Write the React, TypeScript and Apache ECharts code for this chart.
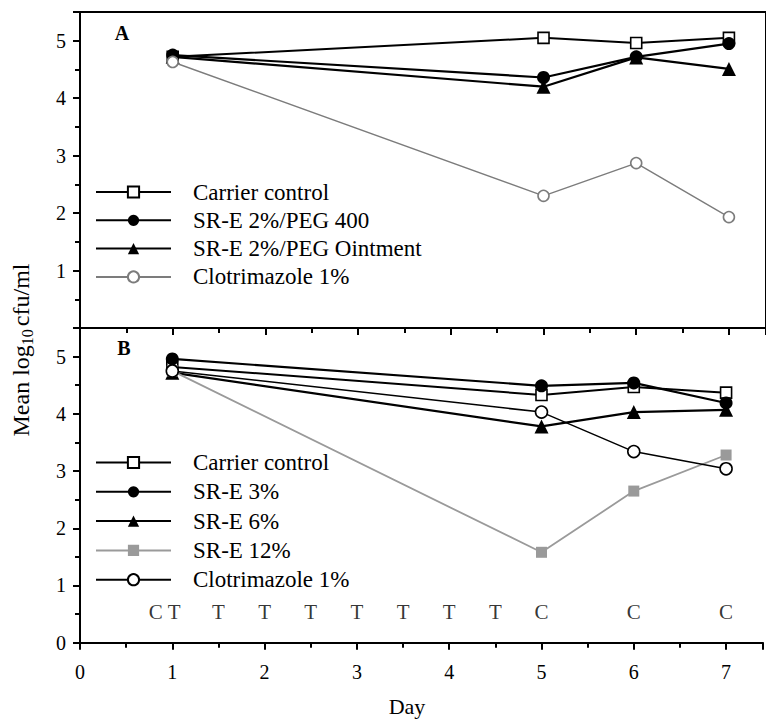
import React, { useEffect, useRef } from "react";
import * as echarts from "echarts";

// ---- data ----
const days = [1, 5, 6, 7];

// Panel A
const aNames = ["Carrier control", "SR-E 2%/PEG 400", "SR-E 2%/PEG Ointment", "Clotrimazole 1%"];
const aCarrier = [4.72, 5.05, 4.96, 5.05];
const aPeg400 = [4.75, 4.36, 4.72, 4.95];
const aPegOint = [4.72, 4.2, 4.71, 4.51];
const aClotri = [4.63, 2.3, 2.87, 1.93];

// Panel B
const bNames = ["Carrier control", "SR-E 3%", "SR-E 6%", "SR-E 12%", "Clotrimazole 1%"];
const bCarrier = [4.82, 4.33, 4.47, 4.37];
const bSre3 = [4.96, 4.49, 4.54, 4.19];
const bSre6 = [4.72, 3.78, 4.03, 4.07];
const bSre12 = [4.75, 1.58, 2.65, 3.28];
const bClotri = [4.75, 4.03, 3.34, 3.04];

// treatment / challenge annotations
const annoDays = [0.82, 1.02, 1.5, 2, 2.5, 3, 3.5, 4, 4.5, 5, 6, 7];
const annoLetters = ["C", "T", "T", "T", "T", "T", "T", "T", "T", "C", "C", "C"];
const annoLevel = 0.54;

const FONT = "Liberation Serif";
const GRAY = "#7c7c7c";

const pairs = (ys: number[]) => days.map((d, i) => [d, ys[i]]);

function makeAxisX(gridIndex: number, showLabels: boolean) {
  return {
    gridIndex,
    type: "value",
    min: 0,
    max: 7.4,
    interval: 1,
    axisLine: { show: true, lineStyle: { color: "#000", width: 2 } },
    axisTick: { show: true, length: 7, lineStyle: { color: "#000", width: 2 } },
    minorTick: { show: true, splitNumber: 2, length: 5, lineStyle: { color: "#000", width: 2 } },
    splitLine: { show: false },
    axisLabel: {
      show: showLabels,
      fontFamily: FONT,
      fontSize: 20,
      color: "#000",
      margin: 19,
      formatter: (v: number) => (Number.isInteger(v) ? String(v) : ""),
    },
  };
}

function makeAxisY(gridIndex: number, showZero: boolean) {
  return {
    gridIndex,
    type: "value",
    min: 0,
    max: 5.5,
    interval: 1,
    axisLine: { show: true, lineStyle: { color: "#000", width: 2 } },
    axisTick: { show: true, length: 7, lineStyle: { color: "#000", width: 2 } },
    minorTick: { show: true, splitNumber: 2, length: 5, lineStyle: { color: "#000", width: 2 } },
    splitLine: { show: false },
    axisLabel: {
      fontFamily: FONT,
      fontSize: 20,
      color: "#000",
      margin: 14,
      formatter: (v: number) => {
        if (!Number.isInteger(v)) return "";
        if (v === 0 && !showZero) return "";
        return String(v);
      },
    },
  };
}

function lineSeries(
  name: string,
  panel: number,
  ys: number[],
  symbol: string,
  size: number,
  color: string,
  fill: string,
  width: number
) {
  return {
    name,
    type: "line",
    xAxisIndex: panel,
    yAxisIndex: panel,
    data: pairs(ys),
    symbol,
    symbolSize: size,
    showAllSymbol: true,
    lineStyle: { color, width },
    itemStyle: { color: fill, borderColor: color, borderWidth: fill === color ? 0 : 1.6, opacity: 1 },
    emphasis: { disabled: true },
    z: 3,
  };
}

export default function App() {
  const ref = useRef<HTMLDivElement>(null);

  useEffect(() => {
    document.body.style.margin = "0";
    if (!ref.current) return;
    const chart = echarts.init(ref.current, null, { renderer: "svg" });

    const legendFmt = (n: string) => n.replace(/^[AB]:/, "");

    const series: any[] = [
      lineSeries("A:" + aNames[0], 0, aCarrier, "rect", 11, "#000", "#fff", 2),
      lineSeries("A:" + aNames[1], 0, aPeg400, "circle", 13, "#000", "#000", 2.2),
      lineSeries("A:" + aNames[2], 0, aPegOint, "triangle", 14, "#000", "#000", 2.2),
      lineSeries("A:" + aNames[3], 0, aClotri, "circle", 11, GRAY, "#fff", 1.4),
      lineSeries("B:" + bNames[0], 1, bCarrier, "rect", 11, "#000", "#fff", 2),
      lineSeries("B:" + bNames[1], 1, bSre3, "circle", 13, "#000", "#000", 2.2),
      lineSeries("B:" + bNames[2], 1, bSre6, "triangle", 14, "#000", "#000", 2.2),
      lineSeries("B:" + bNames[3], 1, bSre12, "rect", 11, "#9a9a9a", "#9a9a9a", 1.8),
      lineSeries("B:" + bNames[4], 1, bClotri, "circle", 12, "#000", "#fff", 1.5),
      {
        type: "scatter",
        xAxisIndex: 1,
        yAxisIndex: 1,
        symbolSize: 0,
        silent: true,
        data: annoDays.map((d, i) => ({
          value: [d, annoLevel],
          label: {
            show: true,
            position: "inside",
            formatter: annoLetters[i],
            fontFamily: FONT,
            fontSize: 21,
            color: "#000",
          },
        })),
      },
    ];

    const legendBase = {
      orient: "vertical",
      left: 95,
      padding: 0,
      itemWidth: 75,
      itemHeight: 14,
      selectedMode: false,
      formatter: legendFmt,
      textStyle: {
        fontFamily: FONT,
        fontSize: 23,
        color: "#000",
        lineHeight: 20,
        padding: [0, 0, 0, 17],
      },
    };

    chart.setOption({
      animation: false,
      textStyle: { fontFamily: FONT },
      grid: [
        { left: 80, top: 12, width: 688, height: 316, show: true, borderColor: "#000", borderWidth: 2 },
        { left: 80, top: 328, width: 688, height: 314.7 },
      ],
      xAxis: [makeAxisX(0, false), makeAxisX(1, true)],
      yAxis: [makeAxisY(0, false), makeAxisY(1, true)],
      legend: [
        { ...legendBase, top: 180.5, itemGap: 5.3, data: aNames.map((n) => "A:" + n) },
        { ...legendBase, top: 451, itemGap: 6.3, data: bNames.map((n) => "B:" + n) },
      ],
      graphic: [
        {
          type: "text",
          x: 122,
          y: 33,
          style: { text: "A", fontFamily: FONT, fontWeight: "bold", fontSize: 20, fill: "#000", align: "center", verticalAlign: "middle" },
        },
        {
          type: "text",
          x: 124,
          y: 348,
          style: { text: "B", fontFamily: FONT, fontWeight: "bold", fontSize: 20, fill: "#000", align: "center", verticalAlign: "middle" },
        },
        {
          type: "text",
          x: 407,
          y: 706,
          style: { text: "Day", fontFamily: FONT, fontSize: 22, fill: "#000", align: "center", verticalAlign: "middle" },
        },
        {
          type: "text",
          x: 21,
          y: 350,
          rotation: Math.PI / 2,
          style: {
            text: "Mean log{s|10}cfu/ml",
            fontFamily: FONT,
            fontSize: 24,
            fill: "#000",
            align: "center",
            verticalAlign: "middle",
            lineHeight: 28,
            rich: {
              s: { fontFamily: FONT, fontSize: 16, lineHeight: 15, verticalAlign: "bottom", fill: "#000", padding: [0, 3, 0, 0] },
            },
          },
        },
      ],
      series,
    });

    return () => chart.dispose();
  }, []);

  return <div ref={ref} style={{ width: 766, height: 720 }} />;
}
